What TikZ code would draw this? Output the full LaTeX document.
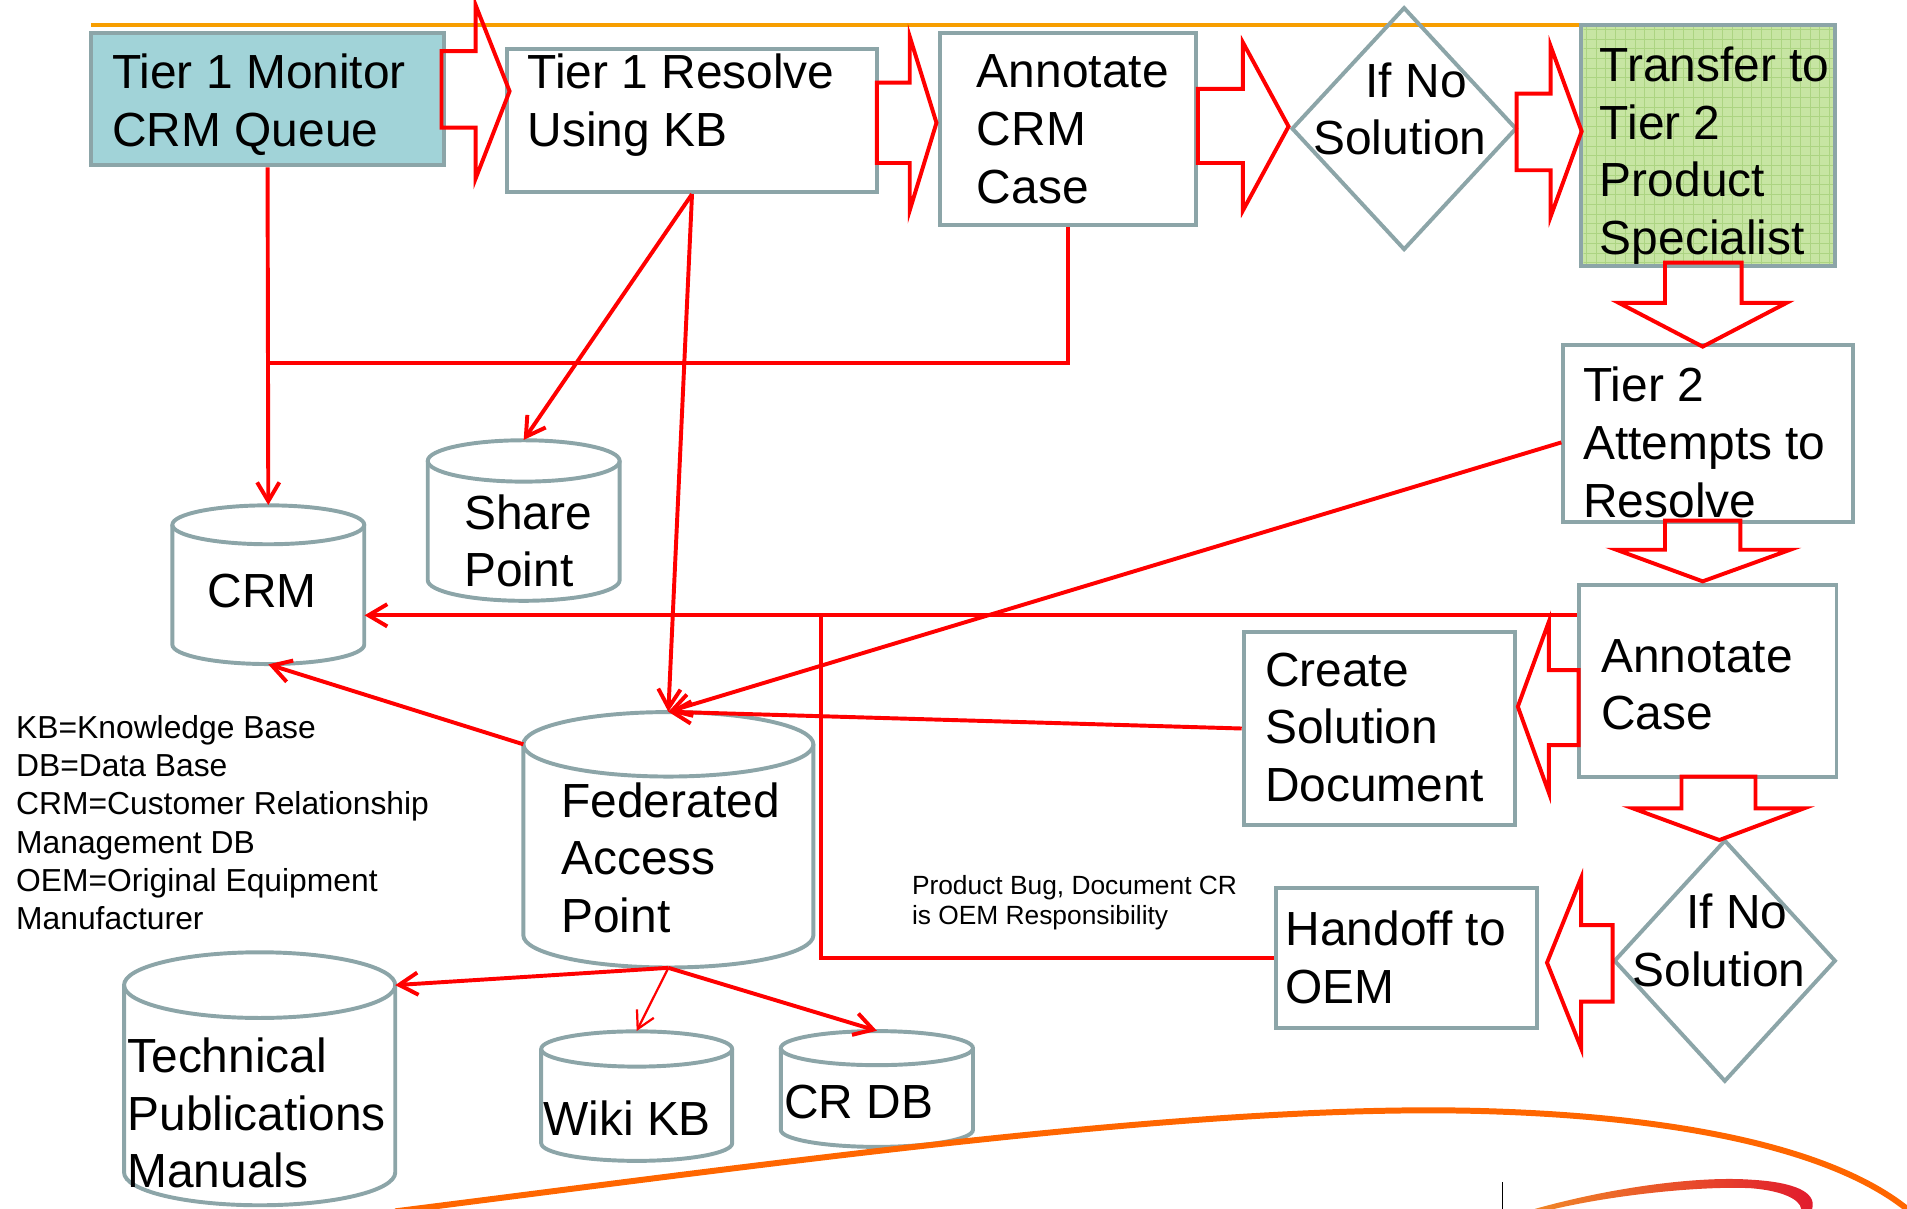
\documentclass[tikz,border=0pt]{standalone}
\usepackage{fontspec}
\setmainfont{Liberation Sans}
\usetikzlibrary{arrows.meta,shapes.geometric,fit,calc}
\definecolor{bgray}{RGB}{140,165,168}
\definecolor{tealfill}{RGB}{161,211,216}
\definecolor{greenfill}{RGB}{199,229,163}
\definecolor{gridgreen}{RGB}{172,212,130}
\definecolor{topline}{RGB}{247,158,0}
\definecolor{swoosh}{RGB}{255,102,0}
\definecolor{cred}{RGB}{255,0,0}
\definecolor{swl}{RGB}{240,135,40}
\definecolor{swr}{RGB}{225,25,45}

\newcommand\dbcyl[6]{%
  \pgfmathsetmacro\cylcx{(#2+#3)/2}%
  \pgfmathsetmacro\cylrx{(#3-#2)/2*0.025}%
  \pgfmathsetmacro\cylry{#6*0.025}%
  \node[inner sep=0pt, fit={(#2,#4-#6) (#3,#5+#6)}] (#1) {};%
  \coordinate (#1l) at (#2,#4);%
  \coordinate (#1r) at (#3,#4);%
  \draw[cylline] (#2,#4) -- (#2,#5) arc[start angle=180, end angle=360, x radius=\cylrx cm, y radius=\cylry cm] -- (#3,#4);%
  \draw[cylline] (\cylcx,#4) ellipse[x radius=\cylrx cm, y radius=\cylry cm];%
}

\begin{document}
\begin{tikzpicture}[x=0.025cm, y=-0.025cm,
  box/.style={draw=bgray, line width=2.3pt, inner sep=0pt},
  dia/.style={diamond, draw=bgray, line width=2.3pt, inner sep=0pt},
  cylline/.style={draw=bgray, line width=2.3pt},
  bigtext/.style={font=\fontsize{28}{33.8}\selectfont, inner sep=0pt, anchor=north west, align=left},
  legendtext/.style={font=\fontsize{18.6}{22.4}\selectfont, inner sep=0pt, anchor=north west, align=left},
  notetext/.style={font=\fontsize{15.4}{17.5}\selectfont, inner sep=0pt, anchor=north west, align=left},
  conn/.style={draw=cred, line width=2.3pt},
  arr/.style={conn, -{Straight Barb[length=11pt,width=13pt]}},
  arrthin/.style={draw=cred, line width=1.3pt, -{Straight Barb[length=10pt,width=11pt]}},
  blockarrow/.style={draw=cred, line width=2.3pt, line join=miter},
]
\useasboundingbox (0,0) rectangle (1568,994);

% top orange line
\draw[topline, line width=2.3pt] (75,20.5) -- (1300,20.5);

% boxes
\node[box, fill=tealfill, fit={(75,27) (365,136)}] (A) {};
\node[box, fit={(417,40) (721,158)}] (B) {};
\node[box, fit={(773,27) (983,185)}] (C) {};
\node[dia, minimum width=4.625cm, minimum height=4.99cm] (D1) at (1154.5,105.75) {};
\node[box, fill=greenfill, fit={(1300,20.5) (1509,218.5)}] (E) {};
\begin{scope}
  \clip (1302,22.5) rectangle (1507,216.5);
  \draw[gridgreen, line width=0.5pt, step=0.2cm] (1300,20.5) grid (1509,218.5);
\end{scope}
\node[box, fit={(1285.4,283.7) (1523.7,429)}] (F) {};
\node[box, fit={(1298,481) (1510,638.6)}] (G) {};
\node[box, fit={(1022.6,520) (1246,678)}] (H) {};
\node[dia, minimum width=4.56cm, minimum height=4.97cm] (D2) at (1418.2,790) {};
\node[box, fit={(1049,730) (1264,845)}] (I) {};

% cylinders
\dbcyl{crm}{141.7}{299.5}{431.5}{530}{16}
\dbcyl{sp}{351.7}{509.5}{379}{477}{17}
\dbcyl{fap}{430.3}{668.8}{612}{769}{26.5}
\dbcyl{tp}{102}{325}{810}{964}{27}
\dbcyl{wiki}{445}{602}{862.5}{940}{14.5}
\dbcyl{crdb}{642}{800}{861.8}{929}{14}

% connector points
\coordinate (j1) at (220,298.5);
\coordinate (j2) at (674.8,507);
\coordinate (f5) at ($(F.north west)!0.55!(F.south west)$);
\coordinate (g7) at ($(G.north west)!0.165!(G.south west)$);

% connectors
\draw[arr] (A.south) -- (crm.north);
\draw[conn] (C.south) |- (j1);
\draw[arr] (B.south) -- (sp.north);
\draw[arr] (B.south) -- (fap.north);
\draw[arr] (f5) -- (fap.north);
\draw[arr] (H.west) -- (fap.north);
\draw[arr] (g7) -- (crm.east |- g7);
\draw[conn] (I.west) -| (j2);
\draw[arr] (fapl) -- (crm.south);
\draw[arr] (fap.south) -- (tpr);
\draw[arrthin] (fap.south) -- (wiki.north);
\draw[arr] (fap.south) -- (crdb.north);

% block arrows
\draw[blockarrow] (363,42) -- (391,42) -- (391,4) -- (419,75) -- (391,147) -- (391,105) -- (363,105) -- cycle;
\draw[blockarrow] (721,68) -- (748,68) -- (748,30) -- (770,101) -- (748,173) -- (748,134) -- (721,134) -- cycle;
\draw[blockarrow] (985,73) -- (1022,73) -- (1022,35) -- (1059.5,104) -- (1022,173) -- (1022,134) -- (985,134) -- cycle;
\draw[blockarrow] (1247,77) -- (1275,77) -- (1275,38) -- (1300.5,108) -- (1275,178) -- (1275,140) -- (1247,140) -- cycle;
\draw[blockarrow] (1369,216) -- (1369,249) -- (1331,249) -- (1400,285) -- (1469,249) -- (1432,249) -- (1432,216) -- cycle;
\draw[blockarrow] (1369,428) -- (1369,452) -- (1329,452) -- (1400,478) -- (1472,452) -- (1431,452) -- (1431,428) -- cycle;
\draw[blockarrow] (1298,551) -- (1273.6,551) -- (1273.6,511) -- (1248,581) -- (1273.6,652) -- (1273.6,612.6) -- (1298,612.6) -- cycle;
\draw[blockarrow] (1382.6,638.6) -- (1382.6,664.6) -- (1342.5,664.6) -- (1413.7,690.7) -- (1483.4,664.6) -- (1443.4,664.6) -- (1443.4,638.6) -- cycle;
\draw[blockarrow] (1326,760.6) -- (1300,760.6) -- (1300,722) -- (1272,791.5) -- (1300,861.7) -- (1300,823.6) -- (1326,823.6) -- cycle;

% texts
\node[bigtext] (tA) at (92,44.2) {Tier 1 Monitor\\CRM Queue};
\node[bigtext] (tB) at (433.5,44.2) {Tier 1 Resolve\\Using KB};
\node[bigtext] (tC) at (803,44.6) {Annotate\\CRM\\Case};
\node[bigtext] (tD1) at (1079.5,51.1) {\hspace*{30.6pt}If No\\Solution};
\node[bigtext] (tE) at (1315.2,38) {Transfer to\\Tier 2\\Product\\Specialist};
\node[bigtext] (tF) at (1301.6,301.3) {Tier 2\\Attempts to\\Resolve};
\node[bigtext] (tG) at (1316.2,525.3) {Annotate\\Case};
\node[bigtext] (tH) at (1040,536.3) {Create\\Solution\\Document};
\node[bigtext] (tD2) at (1342,734.9) {\hspace*{31.6pt}If No\\Solution};
\node[bigtext] (tI) at (1056.8,748.6) {Handoff to\\OEM};
\node[bigtext] (tCRM) at (170.5,471.8) {CRM};
\node[bigtext] (tSP) at (381.5,406.3) {Share\\Point};
\node[bigtext] (tFAP) at (461.3,643.1) {Federated\\Access\\Point};
\node[bigtext] (tTP) at (104.5,852.8) {Technical\\Publications\\Manuals};
\node[bigtext] (tWiki) at (446.5,904.8) {Wiki KB};
\node[bigtext] (tCR) at (644.5,891.8) {CR DB};
\node[legendtext] (legend) at (13,587.8) {KB=Knowledge Base\\DB=Data Base\\CRM=Customer Relationship\\Management DB\\OEM=Original Equipment\\Manufacturer};
\node[notetext] (note) at (749.6,719.5) {Product Bug, Document CR\\is OEM Responsibility};

% decorative swooshes
\draw[swoosh, line width=3.5pt] (325,996) .. controls (650,955) and (1000,905) .. (1233,914) .. controls (1400,920) and (1520,950) .. (1575,1000);
\shade[left color=swl, right color=swr] (1262,994) .. controls (1330,975) and (1400,967) .. (1440,970) .. controls (1475,972) and (1494,980) .. (1490,994) -- (1481,994) .. controls (1480,986) and (1465,979) .. (1440,977) .. controls (1400,975) and (1330,982) .. (1278,994) -- cycle;
\draw[black, line width=0.6pt] (1235,972) -- (1235,994);
\end{tikzpicture}
\end{document}
